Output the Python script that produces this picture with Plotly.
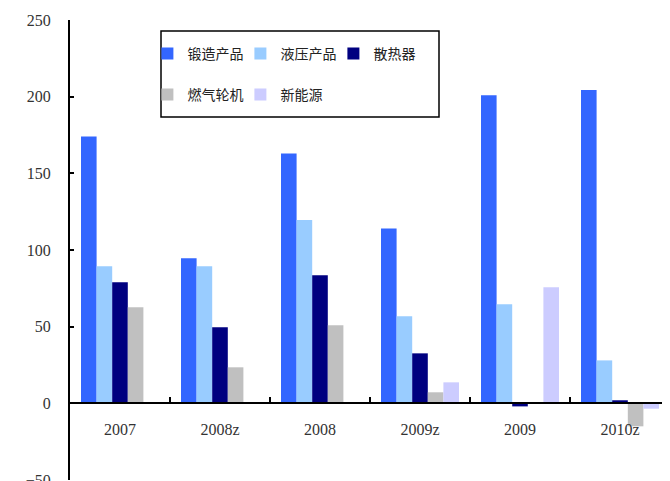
import plotly.graph_objects as go

categories = ["2007", "2008z", "2008", "2009z", "2009", "2010z"]
series_names = ["锻造产品", "液压产品", "散热器", "燃气轮机", "新能源"]
forging = [174, 94.6, 163, 114, 201, 204.3]
hydraulic = [89.4, 89.4, 119.5, 56.8, 64.6, 28]
radiator = [79, 49.6, 83.5, 32.6, -2, 2]
gas_turbine = [62.7, 23.5, 51, 7.2, 0, -15]
new_energy = [0, 0, 0, 13.7, 75.7, -3.5]
y_ticks = [-50, 0, 50, 100, 150, 200, 250]

values = [forging, hydraulic, radiator, gas_turbine, new_energy]
colors = ["#3366FF", "#99CCFF", "#000080", "#C0C0C0", "#CCCCFF"]
legend_ids = ["legend", "legend", "legend", "legend2", "legend2"]

fig = go.Figure()
for name, vals, col, lg in zip(series_names, values, colors, legend_ids):
    fig.add_trace(go.Bar(x=categories, y=vals, name=name, marker_color=col,
                         marker_line_width=0, legend=lg))

serif = "Liberation Serif, Noto Sans CJK SC, serif"
legend_common = dict(
    orientation="h", xanchor="left", yanchor="middle",
    font=dict(family="Noto Sans CJK SC, Liberation Serif", size=14, color="#222"),
    entrywidth=48, entrywidthmode="pixels",
    bgcolor="rgba(0,0,0,0)", borderwidth=0, itemclick=False,
)

# page body has an 8px margin: plot area sits at screen x 70..670, y 20..480
L, T = 62, 12
fig.update_layout(
    width=670, height=481,
    margin=dict(l=L, r=8, t=T, b=9, autoexpand=False),
    paper_bgcolor="white", plot_bgcolor="white",
    barmode="group", bargap=0.22, bargroupgap=0,
    font=dict(family=serif, size=16, color="#333"),
    legend=dict(x=0.129, y=(480 - 54) / 460, **legend_common),
    legend2=dict(x=0.129, y=(480 - 95) / 460, **legend_common),
    xaxis=dict(
        type="category", anchor="free", position=1 / 6, automargin=False,
        showline=True, linecolor="black", linewidth=2,
        ticks="inside", tickson="boundaries", ticklen=5, tickcolor="black",
        tickwidth=1.5, showgrid=False, ticklabelstandoff=11,
        tickfont=dict(family=serif, size=16, color="#333"),
    ),
    yaxis=dict(
        range=[-50, 250], tickvals=y_ticks, showgrid=False, zeroline=False,
        automargin=False,
        showline=True, linecolor="black", linewidth=2,
        ticks="inside", ticklen=4, tickcolor="black", tickwidth=1.5,
        ticklabelstandoff=14,
        tickfont=dict(family=serif, size=16, color="#333"),
    ),
    shapes=[dict(type="rect", xref="paper", yref="paper",
                 x0=(161 - 70) / 600, x1=(439 - 70) / 600,
                 y0=(480 - 117) / 460, y1=(480 - 31) / 460,
                 line=dict(color="black", width=1.5), fillcolor="rgba(0,0,0,0)")],
)

fig.write_html("out.html")
